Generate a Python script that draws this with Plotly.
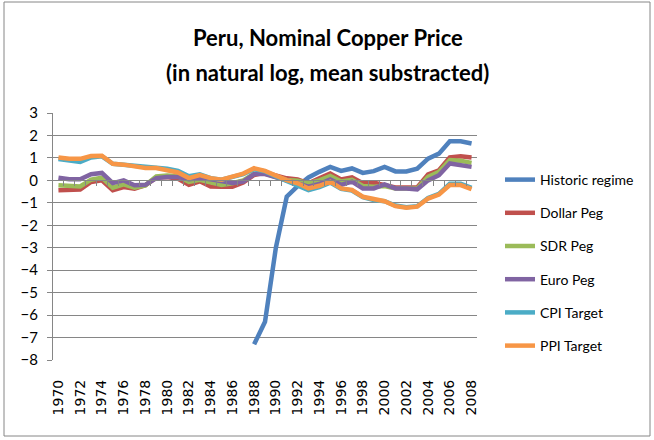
import plotly.graph_objects as go

# Years on the category axis
years = list(range(1970, 2009))

# Log nominal copper price (mean subtracted) under each regime
historic_regime = [None] * 18 + [
    -7.3, -6.3, -3.0, -0.73, -0.26, 0.13, 0.38, 0.6, 0.42, 0.53,
    0.33, 0.41, 0.6, 0.4, 0.4, 0.52, 0.97, 1.19, 1.74, 1.74, 1.64,
]
dollar_peg = [
    -0.44, -0.44, -0.41, -0.07, 0.0, -0.44, -0.3, -0.37, -0.22, 0.12,
    0.15, 0.07, -0.2, -0.04, -0.27, -0.28, -0.28, -0.1, 0.24, 0.35,
    0.2, 0.09, 0.04, -0.13, 0.09, 0.31, 0.04, 0.13, -0.13, -0.1,
    -0.21, -0.32, -0.32, -0.32, 0.27, 0.45, 1.02, 1.07, 1.02,
]
sdr_peg = [
    -0.22, -0.27, -0.27, 0.03, 0.12, -0.33, -0.18, -0.33, -0.22, 0.18,
    0.22, 0.18, -0.07, 0.03, -0.1, -0.2, -0.13, 0.0, 0.3, 0.3,
    0.15, 0.02, -0.02, -0.13, 0.0, 0.2, -0.05, 0.02, -0.25, -0.28,
    -0.25, -0.36, -0.36, -0.36, 0.16, 0.38, 0.9, 0.87, 0.78,
]
euro_peg = [
    0.12, 0.05, 0.05, 0.27, 0.33, -0.12, 0.0, -0.22, -0.2, 0.1,
    0.15, 0.15, 0.05, 0.1, 0.05, -0.05, -0.12, -0.05, 0.28, 0.28,
    0.15, 0.0, -0.1, -0.28, -0.16, 0.04, -0.2, -0.06, -0.36, -0.36,
    -0.18, -0.36, -0.36, -0.4, 0.0, 0.23, 0.75, 0.7, 0.6,
]
cpi_target = [
    0.95, 0.9, 0.82, 1.02, 1.07, 0.74, 0.7, 0.62, 0.57, 0.55,
    0.52, 0.42, 0.18, 0.27, 0.1, 0.03, 0.15, 0.28, 0.5, 0.4,
    0.18, -0.02, -0.2, -0.43, -0.3, -0.1, -0.38, -0.45, -0.75, -0.88,
    -0.93, -1.12, -1.2, -1.15, -0.78, -0.6, -0.15, -0.15, -0.33,
]
ppi_target = [
    1.02, 0.96, 0.96, 1.08, 1.1, 0.74, 0.7, 0.62, 0.55, 0.55,
    0.47, 0.35, 0.1, 0.24, 0.1, 0.03, 0.17, 0.3, 0.54, 0.42,
    0.21, 0.01, -0.13, -0.36, -0.24, -0.06, -0.36, -0.43, -0.73, -0.85,
    -0.93, -1.15, -1.22, -1.17, -0.81, -0.63, -0.21, -0.21, -0.39,
]

series = [
    ("Historic regime", historic_regime, "#4F81BD"),
    ("Dollar Peg", dollar_peg, "#C0504D"),
    ("SDR Peg", sdr_peg, "#9BBB59"),
    ("Euro Peg", euro_peg, "#8064A2"),
    ("CPI Target", cpi_target, "#4BACC6"),
    ("PPI Target", ppi_target, "#F79646"),
]

y_ticks = list(range(-8, 4))
x_ticks = years[::2]
x_ticktext = [str(y) for y in x_ticks]

W, H = 654, 440
ML, MR, MT, MB = 53, 177, 113, 80
plot_w = W - ML - MR
plot_h = H - MT - MB
y_min, y_max = -8, 3

fig = go.Figure()
for name, vals, color in series:
    fig.add_trace(go.Scatter(
        x=years, y=vals, name=name, mode="lines",
        line=dict(color=color, width=4.5, shape="linear"),
        connectgaps=False, legendgroup=name,
    ))

# Category boundary ticks on the horizontal axis crossing at zero
zero_pos = (0 - y_min) / (y_max - y_min)
fig.add_trace(go.Scatter(x=[years[0]], y=[None], xaxis="x2", showlegend=False,
                         hoverinfo="skip"))

def px_x(v):
    return (v - ML) / plot_w

def px_y(v):
    return (H - MB - v) / plot_h

fig.update_layout(
    width=W, height=H,
    margin=dict(l=ML, r=MR, t=MT, b=MB),
    paper_bgcolor="white", plot_bgcolor="white",
    showlegend=True,
    legend=dict(
        x=px_x(500), y=px_y(164), xanchor="left", yanchor="top",
        font=dict(family="Lato", size=14, color="#000000"),
        tracegroupgap=12, itemwidth=30, bgcolor="rgba(0,0,0,0)",
    ),
    xaxis=dict(
        range=[years[0] - 0.5, years[-1] + 0.5],
        tickvals=x_ticks, ticktext=x_ticktext, tickangle=-90,
        tickfont=dict(family="DejaVu Sans", size=14, color="#000000"),
        showgrid=False, zeroline=False, showline=False, ticks="",
        ticklabelstandoff=16,
    ),
    xaxis2=dict(
        range=[years[0] - 0.5, years[-1] + 0.5],
        overlaying="x", anchor="free", position=zero_pos,
        tickvals=[y + 0.5 for y in years[:-1]],
        ticks="outside", ticklen=5, tickcolor="#868686", tickwidth=1,
        showticklabels=False, showgrid=False, zeroline=False,
        showline=True, linecolor="#868686", linewidth=1,
    ),
    yaxis=dict(
        range=[y_min, y_max], tickvals=y_ticks,
        tickfont=dict(family="Lato", size=15, color="#000000"),
        showgrid=True, gridcolor="#868686", gridwidth=1,
        zeroline=False, showline=True, linecolor="#868686", linewidth=1,
        ticks="outside", ticklen=5, tickcolor="#868686",
        ticklabelstandoff=6,
    ),
    annotations=[
        dict(text="<b>Peru, Nominal Copper Price</b>", x=px_x(328), y=px_y(37),
             xref="paper", yref="paper", xanchor="center", yanchor="middle",
             showarrow=False, font=dict(family="Lato", size=22, color="#000000")),
        dict(text="<b>(in natural log, mean substracted)</b>", x=px_x(327), y=px_y(72),
             xref="paper", yref="paper", xanchor="center", yanchor="middle",
             showarrow=False, font=dict(family="Lato", size=22, color="#000000")),
    ],
    shapes=[
        dict(type="rect", xref="paper", yref="paper",
             x0=px_x(4), x1=px_x(650), y0=px_y(436), y1=px_y(2),
             line=dict(color="#868686", width=1), fillcolor="rgba(0,0,0,0)",
             layer="below"),
    ],
)

fig.write_html("out.html")
